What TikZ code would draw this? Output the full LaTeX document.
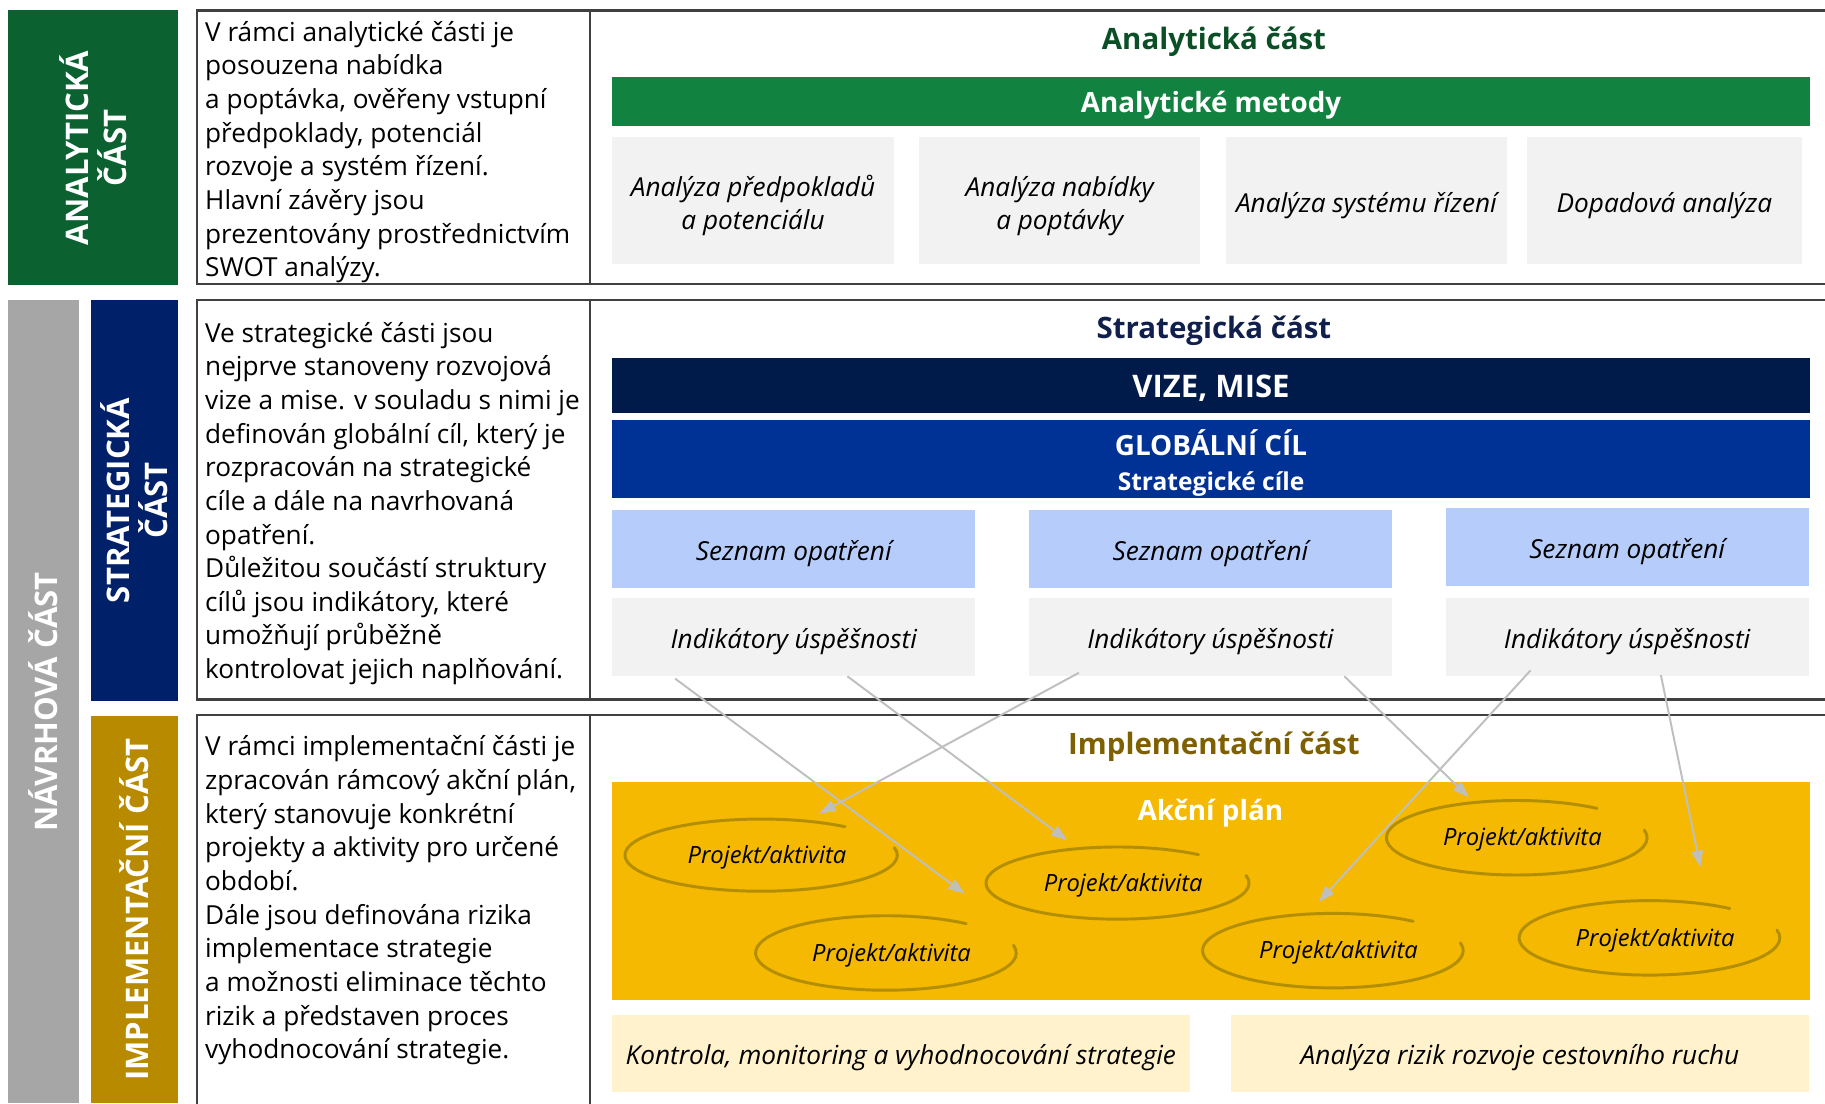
\documentclass[tikz,border=0pt]{standalone}
\usepackage{fontspec}
\setmainfont{Open Sans}
\usetikzlibrary{arrows.meta}

\definecolor{anagreen}{HTML}{0B612F}
\definecolor{metgreen}{HTML}{128240}
\definecolor{anatitle}{HTML}{0B4F26}
\definecolor{navgray}{HTML}{A6A6A6}
\definecolor{strnavy}{HTML}{002169}
\definecolor{strtitle}{HTML}{101F4C}
\definecolor{vizeblue}{HTML}{001A4A}
\definecolor{globblue}{HTML}{003296}
\definecolor{seznblue}{HTML}{B6CDFB}
\definecolor{boxgray}{HTML}{F2F2F2}
\definecolor{impgold}{HTML}{B88A00}
\definecolor{imptitle}{HTML}{7F6000}
\definecolor{planyellow}{HTML}{F4B900}
\definecolor{loopgold}{HTML}{B38E00}
\definecolor{notecream}{HTML}{FFF2CC}
\definecolor{framegray}{HTML}{404040}
\definecolor{arrowgray}{HTML}{BFBFBF}

\tikzset{
  midtext/.style={text height=18pt, text depth=4pt},
  sidelabel/.style={rotate=90, align=center, text=white, inner sep=0pt,
    font=\bfseries\fontsize{19}{23.5}\selectfont},
  bodytext/.style={anchor=north west, align=left, inner sep=0pt,
    font=\fontsize{16}{20.55}\selectfont},
  parttitle/.style={midtext, font=\bfseries\fontsize{18}{22}\selectfont},
  widebar/.style={minimum width=1029*\pxl, inner sep=0pt, text=white, align=center,
    font=\bfseries\fontsize{17}{21}\selectfont},
  methodbox/.style={fill=boxgray, minimum height=109*\pxl, inner sep=0pt, align=center,
    font=\itshape\fontsize{16}{20}\selectfont},
  goalbox/.style={midtext, minimum width=312*\pxl, minimum height=67*\pxl, inner sep=0pt,
    font=\itshape\fontsize{16}{21}\selectfont},
  projekt/.style={text height=16.5pt, text depth=4pt, inner sep=0pt, font=\itshape\fontsize{14.5}{18}\selectfont},
  notebox/.style={midtext, fill=notecream, minimum width=497*\pxl, minimum height=66*\pxl, inner sep=0pt,
    font=\itshape\fontsize{16}{21}\selectfont},
  frame/.style={draw=framegray, line width=1.4pt},
  loopline/.style={draw=loopgold, line width=1.8pt, line cap=round},
  link/.style={draw=arrowgray, line width=1.2pt, -{Triangle[length=10pt, width=7pt]}}
}

\begin{document}
\begin{tikzpicture}[x=0.025cm, y=-0.025cm]
% one unit is one pixel of the 1568 x 948 layout
\def\pxl{0.025cm}
\useasboundingbox (0,0) rectangle (1568,948);

% Side labels
\node[sidelabel, fill=anagreen, minimum width=236*\pxl, minimum height=146*\pxl] (labA) at (80,127) {ANALYTICKÁ\\ČÁST};
\node[sidelabel, fill=navgray, minimum width=690*\pxl, minimum height=61*\pxl] (labN) at (37.5,603) {NÁVRHOVÁ ČÁST};
\node[sidelabel, fill=strnavy, minimum width=344*\pxl, minimum height=75*\pxl] (labS) at (115.5,430) {STRATEGICKÁ\\ČÁST};
\node[sidelabel, fill=impgold, minimum width=333*\pxl, minimum height=75*\pxl] (labI) at (115.5,781.5) {IMPLEMENTAČNÍ ČÁST};

% Frames
\draw[frame] (1568,9) -- (169,9) -- (169,244) -- (1568,244);
\draw[frame] (507,9) -- (507,244);
\draw[frame] (1568,258) -- (169,258) -- (169,601) -- (1568,601);
\draw[frame] (507,258) -- (507,601);
\draw[frame] (1568,614) -- (169,614) -- (169,950);
\draw[frame] (507,614) -- (507,950);

% Descriptions
\node[bodytext] (txtA) at (176,18) {V rámci analytické části je\\posouzena nabídka\\a poptávka, ověřeny vstupní\\předpoklady, potenciál\\rozvoje a systém řízení.\\Hlavní závěry jsou\\prezentovány prostřednictvím\\SWOT analýzy.};
\node[bodytext] (txtS) at (176,276.5) {Ve strategické části jsou\\nejprve stanoveny rozvojová\\vize a mise. v souladu s nimi je\\definován globální cíl, který je\\rozpracován na strategické\\cíle a dále na navrhovaná\\opatření.\\Důležitou součástí struktury\\cílů jsou indikátory, které\\umožňují průběžně\\kontrolovat jejich naplňování.};
\node[bodytext] (txtI) at (176,632) {V rámci implementační části je\\zpracován rámcový akční plán,\\který stanovuje konkrétní\\projekty a aktivity pro určené\\období.\\Dále jsou definována rizika\\implementace strategie\\a možnosti eliminace těchto\\rizik a představen proces\\vyhodnocování strategie.};

% Analytical part
\node[parttitle, text=anatitle] (tA) at (1043,33) {Analytická část};
\node[widebar, midtext, fill=metgreen, minimum height=42*\pxl] (met) at (1040.5,87) {Analytické metody};
\node[methodbox, minimum width=242*\pxl] (am1) at (647,172.5) {\rule{0pt}{1.2em}Analýza předpokladů\\a potenciálu};
\node[methodbox, minimum width=241*\pxl] (am2) at (910.5,172.5) {\rule{0pt}{1.2em}Analýza nabídky\\a poptávky};
\node[methodbox, midtext, minimum width=242*\pxl] (am3) at (1174,172.5) {Analýza systému řízení};
\node[methodbox, midtext, minimum width=236*\pxl] (am4) at (1430,172.5) {Dopadová analýza};

% Strategic part
\node[parttitle, text=strtitle] (tS) at (1043,281) {Strategická část};
\node[widebar, midtext, fill=vizeblue, minimum height=47*\pxl, font=\bfseries\fontsize{19}{22}\selectfont] (vize) at (1040.5,331.5) {VIZE, MISE};
\node[widebar, fill=globblue, minimum height=67*\pxl] (glob) at (1040.5,394.5) {\rule{0pt}{1.2em}GLOBÁLNÍ CÍL\\{\fontsize{15}{18}\selectfont Strategické cíle}};
\node[goalbox, fill=seznblue] (sez1) at (682,471.5) {Seznam opatření};
\node[goalbox, fill=seznblue] (sez2) at (1040,471.5) {Seznam opatření};
\node[goalbox, fill=seznblue] (sez3) at (1398,470) {Seznam opatření};
\node[goalbox, fill=boxgray] (ind1) at (682,547.5) {Indikátory úspěšnosti};
\node[goalbox, fill=boxgray] (ind2) at (1040,547.5) {Indikátory úspěšnosti};
\node[goalbox, fill=boxgray] (ind3) at (1398,547.5) {Indikátory úspěšnosti};

% Implementation part
\node[parttitle, text=imptitle] (tI) at (1043,638) {Implementační část};
\node[widebar, fill=planyellow, minimum height=187*\pxl, anchor=north] (plan) at (1040.5,672) {};
\node[midtext, text=white, font=\bfseries\fontsize{17}{21}\selectfont] (tP) at (1040,695) {Akční plán};
\node[projekt] (p1) at (659,733) {Projekt/aktivita};
\node[projekt] (p2) at (965,757) {Projekt/aktivita};
\node[projekt] (p3) at (766,817) {Projekt/aktivita};
\node[projekt] (p4) at (1308,718) {Projekt/aktivita};
\node[projekt] (p5) at (1150,815) {Projekt/aktivita};
\node[projekt] (p6) at (1422,804) {Projekt/aktivita};
\foreach \n/\rx/\ry in {p1/117/31, p2/113/31, p3/112/32, p4/112/32, p5/112/32, p6/112/32}
  \draw[loopline] (\n.center) ++(-52:\rx*0.93 and \ry*0.93) arc[start angle=-52, end angle=-372, x radius=\rx, y radius=\ry];
\node[notebox] (kon) at (774,905) {Kontrola, monitoring a vyhodnocování strategie};
\node[notebox] (ris) at (1306,905) {Analýza rizik rozvoje cestovního ruchu};

% Links from indicators to projects
\coordinate (s1) at (580,583);
\coordinate (s2) at (728,581);
\coordinate (s3) at (927,578);
\coordinate (s4) at (1155,581);
\coordinate (s5) at (1315,576);
\coordinate (s6) at (1427,580);
\coordinate (e1) at (829,768);
\coordinate (e2) at (917,722);
\coordinate (e3) at (704,699);
\coordinate (e4) at (1262,685);
\coordinate (e5) at (1133,775);
\coordinate (e6) at (1461,745);
\foreach \i in {1,...,6}
  \draw[link] (s\i) -- (e\i);
\end{tikzpicture}
\end{document}
